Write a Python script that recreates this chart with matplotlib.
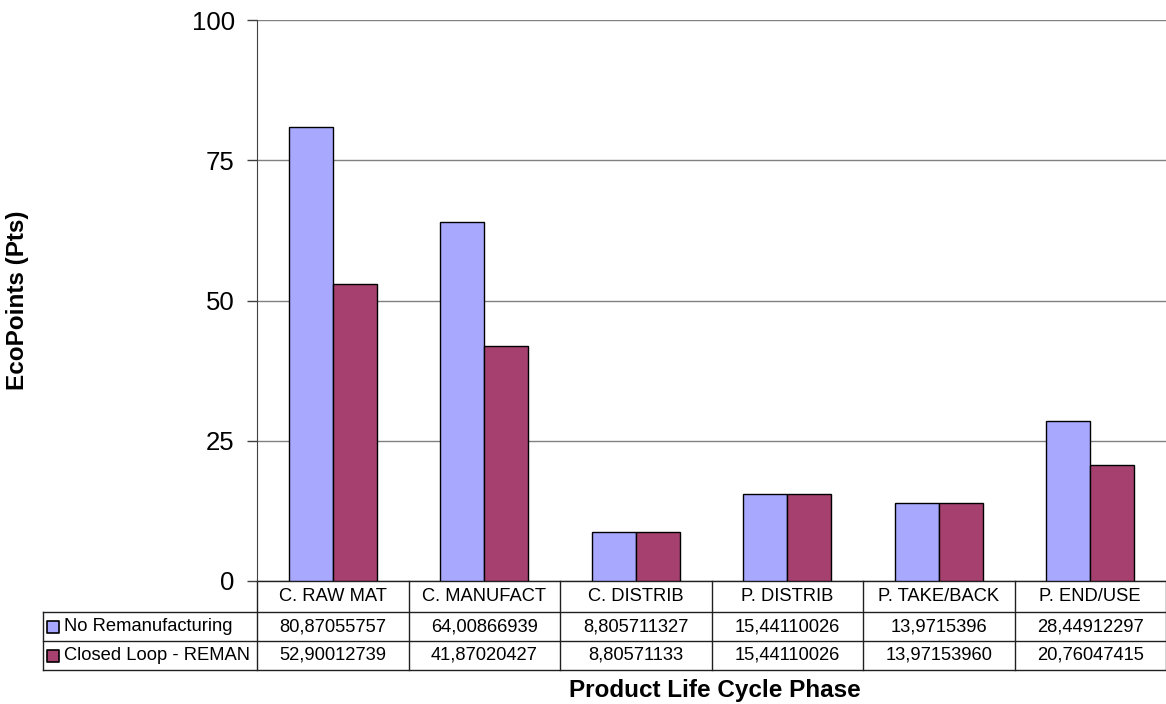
import numpy as np
import matplotlib.pyplot as plt
from matplotlib.transforms import blended_transform_factory

phases = ['C. RAW MAT', 'C. MANUFACT', 'C. DISTRIB', 'P. DISTRIB', 'P. TAKE/BACK', 'P. END/USE']
no_reman = [80.87055757, 64.00866939, 8.805711327, 15.44110026, 13.9715396, 28.44912297]
closed_loop = [52.90012739, 41.87020427, 8.80571133, 15.44110026, 13.97153960, 20.76047415]
no_reman_text = ['80,87055757', '64,00866939', '8,805711327', '15,44110026', '13,9715396', '28,44912297']
closed_loop_text = ['52,90012739', '41,87020427', '8,80571133', '15,44110026', '13,97153960', '20,76047415']
series_names = ['No Remanufacturing', 'Closed Loop - REMAN']
y_ticks = [0, 25, 50, 75, 100]

blue = '#A8A8FF'
red = '#A6416F'

plt.rcParams['font.family'] = ['Liberation Sans', 'DejaVu Sans']

W, H = 1166, 704
fig = plt.figure(figsize=(W / 100, H / 100), dpi=100)
ax = fig.add_axes([257 / W, 1 - 581 / H, 1 - 257 / W, 561 / H])

x = np.arange(len(phases))
bw = 0.29
ax.bar(x - bw / 2, no_reman, bw, color=blue, edgecolor='black', linewidth=1, zorder=3)
ax.bar(x + bw / 2, closed_loop, bw, color=red, edgecolor='black', linewidth=1, zorder=3)

ax.set_xlim(-0.5, len(phases) - 0.5)
ax.set_ylim(0, 100)
ax.set_yticks(y_ticks)
ax.set_yticklabels([str(t) for t in y_ticks], fontsize=18.5)
ax.tick_params(axis='y', direction='out', length=7, width=1, color='#404040', pad=9)
ax.set_xticks([])
ax.yaxis.grid(True, color='#808080', linewidth=1, zorder=0)
for s in ['top', 'right', 'bottom']:
    ax.spines[s].set_visible(False)
ax.spines['left'].set_color('#404040')

# Data table under the plot
tr = blended_transform_factory(ax.transData, ax.transAxes)
px = 561.0
cw = 909 / 6
rows = [0, -31 / px, -60 / px, -89 / px]
x_leg = -0.5 + (43 - 257) / cw
right = len(phases) - 0.5
lc = '#202020'

ax.plot([-0.5, right], [rows[0], rows[0]], transform=tr, color=lc, lw=1, clip_on=False)
for r in rows[1:]:
    ax.plot([x_leg, right], [r, r], transform=tr, color=lc, lw=1, clip_on=False)
for b in np.arange(-0.5, right + 0.01, 1.0):
    ax.plot([b, b], [rows[0], rows[3]], transform=tr, color=lc, lw=1, clip_on=False)
ax.plot([x_leg, x_leg], [rows[1], rows[3]], transform=tr, color=lc, lw=1, clip_on=False)

def mid(i):
    return (rows[i] + rows[i + 1]) / 2

fs = 13.2
for i, name in enumerate(phases):
    ax.text(i, mid(0), name, transform=tr, ha='center', va='center', fontsize=fs)
    ax.text(i, mid(1), no_reman_text[i], transform=tr, ha='center', va='center', fontsize=fs)
    ax.text(i, mid(2), closed_loop_text[i], transform=tr, ha='center', va='center', fontsize=fs)

for k, (name, col) in enumerate(zip(series_names, [blue, red])):
    ax.scatter([x_leg + 9.5 / cw], [mid(k + 1)], transform=tr, marker='s', s=80,
               color=col, edgecolor='black', linewidth=1.2, clip_on=False, zorder=5)
    ax.text(x_leg + 21 / cw, mid(k + 1), name, transform=tr, ha='left', va='center', fontsize=fs)

fig.text(18 / W, 1 - 300 / H, 'EcoPoints (Pts)', rotation=90, ha='center', va='center',
         fontsize=17.5, fontweight='bold')
fig.text(715 / W, 1 - 690 / H, 'Product Life Cycle Phase', ha='center', va='center',
         fontsize=17.5, fontweight='bold')

fig.savefig('out.png', dpi=100)
